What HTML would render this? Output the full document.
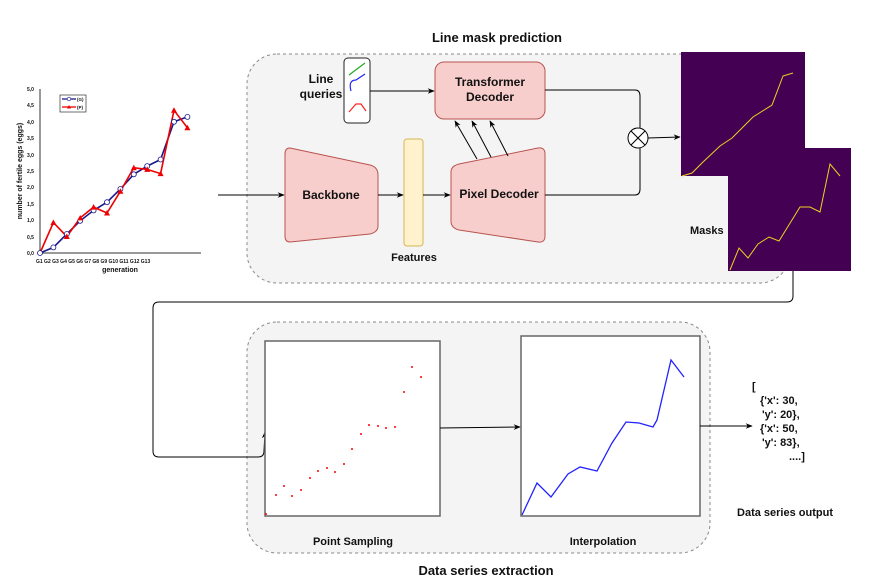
<!DOCTYPE html>
<html><head><meta charset="utf-8"><style>
html,body{margin:0;padding:0;background:#fff}
svg{display:block}
text{font-family:"Liberation Sans",sans-serif;font-weight:bold;fill:#111}
</style></head><body>
<svg width="877" height="582" viewBox="0 0 877 582" xmlns="http://www.w3.org/2000/svg">
<defs>
<marker id="a" viewBox="0 0 10 10" refX="9" refY="5" markerWidth="7" markerHeight="7" orient="auto"><path d="M0,1 L10,5 L0,9 L3,5z" fill="#000"/></marker>
</defs>
<!-- containers -->
<rect x="247" y="54" width="543" height="229" rx="30" fill="#f4f4f4" stroke="#888" stroke-dasharray="3,3"/>
<rect x="247" y="322" width="463" height="231" rx="30" fill="#f4f4f4" stroke="#888" stroke-dasharray="3,3"/>
<text x="497" y="42" font-size="13" text-anchor="middle">Line mask prediction</text>
<text x="486" y="575" font-size="13" text-anchor="middle">Data series extraction</text>

<!-- chart -->
<g font-family="Liberation Serif" >
<line x1="40" y1="89" x2="40" y2="253" stroke="#333"/>
<line x1="40" y1="253" x2="201" y2="253" stroke="#333"/>
<g font-size="5" fill="#222" style="font-weight:bold">
<text x="27" y="91" font-size="5">5,0</text><text x="27" y="107" font-size="5">4,5</text><text x="27" y="124" font-size="5">4,0</text><text x="27" y="140" font-size="5">3,5</text><text x="27" y="157" font-size="5">3,0</text><text x="27" y="173" font-size="5">2,5</text><text x="27" y="189" font-size="5">2,0</text><text x="27" y="206" font-size="5">1,5</text><text x="27" y="222" font-size="5">1,0</text><text x="27" y="239" font-size="5">0,5</text><text x="27" y="255" font-size="5">0,0</text>
<text x="36" y="263" font-size="5">G1  G2  G3  G4  G5  G6  G7  G8  G9  G10 G11 G12 G13</text>
</g>
<text x="120" y="272" font-size="7" text-anchor="middle" font-family="Liberation Serif">generation</text>
<text x="22" y="171" font-size="7" text-anchor="middle" font-family="Liberation Serif" transform="rotate(-90 22 171)">number of fertile eggs (eggs)</text>
<rect x="60" y="95" width="26" height="17" fill="#fff" stroke="#333" stroke-width="0.7"/>
<line x1="62" y1="99" x2="76" y2="99" stroke="#1a1a8c" stroke-width="1.3"/><circle cx="69" cy="99" r="1.8" fill="#fff" stroke="#1a1a8c" stroke-width="0.7"/>
<line x1="62" y1="107" x2="76" y2="107" stroke="#e00" stroke-width="1.3"/><path d="M67,108.5 L69,105 L71,108.5z" fill="#e00"/>
<text x="77" y="101" font-size="4.5">(G)</text><text x="77" y="109" font-size="4.5">(P)</text>
<polyline fill="none" stroke="#1a1a8c" stroke-width="1.6" points="40,253 53.4,247.4 66.8,234 80.2,220.8 93.6,210.4 107,202.2 120.4,189 133.8,174.3 147.2,166.1 160.6,159.5 174,121.8 187.4,116.9"/>
<polyline fill="none" stroke="#e00" stroke-width="1.6" points="40,253 53.4,222.5 66.8,236.6 80.2,217.9 93.6,207.1 107,213 120.4,191.3 133.8,167.7 147.2,169.4 160.6,173.6 174,110.3 187.4,127.7"/>
<g fill="#fff" stroke="#1a1a8c" stroke-width="0.8">
<circle cx="40" cy="253" r="2.5"/><circle cx="53.4" cy="247.4" r="2.5"/><circle cx="66.8" cy="234" r="2.5"/><circle cx="80.2" cy="220.8" r="2.5"/><circle cx="93.6" cy="210.4" r="2.5"/><circle cx="107" cy="202.2" r="2.5"/><circle cx="120.4" cy="189" r="2.5"/><circle cx="133.8" cy="174.3" r="2.5"/><circle cx="147.2" cy="166.1" r="2.5"/><circle cx="160.6" cy="159.5" r="2.5"/><circle cx="174" cy="121.8" r="2.5"/><circle cx="187.4" cy="116.9" r="2.5"/></g>
<g fill="#e00">
<path d="M50.4,225 L53.4,219.5 L56.4,225z"/><path d="M63.8,239 L66.8,233.5 L69.8,239z"/><path d="M77.2,220.4 L80.2,215 L83.2,220.4z"/><path d="M90.6,209.6 L93.6,204 L96.6,209.6z"/><path d="M104,215.5 L107,210 L110,215.5z"/><path d="M117.4,193.8 L120.4,188.3 L123.4,193.8z"/><path d="M130.8,170.2 L133.8,164.7 L136.8,170.2z"/><path d="M144.2,171.9 L147.2,166.4 L150.2,171.9z"/><path d="M157.6,176.1 L160.6,170.6 L163.6,176.1z"/><path d="M171,112.8 L174,107.3 L177,112.8z"/><path d="M184.4,130.2 L187.4,124.7 L190.4,130.2z"/>
</g>
</g>

<!-- input arrow -->
<line x1="218" y1="195" x2="284" y2="195" stroke="#000" marker-end="url(#a)"/>

<!-- backbone -->
<path d="M290,148 L370,165 Q378,167 378,175 L378,226 Q378,232 370,234 L290,242 Q285,242 285,236 L285,154 Q285,148 290,148z" fill="#f8cecc" stroke="#b85450"/>
<text x="331" y="199" font-size="12" text-anchor="middle">Backbone</text>
<line x1="378" y1="195" x2="403" y2="195" stroke="#000" marker-end="url(#a)"/>
<rect x="404" y="139" width="19" height="107" rx="3" fill="#fff2cc" stroke="#d6b656"/>
<text x="414" y="261" font-size="11" text-anchor="middle">Features</text>
<line x1="423" y1="195" x2="450" y2="195" stroke="#000" marker-end="url(#a)"/>
<!-- pixel decoder -->
<path d="M459,164 L538,148 Q545,147 545,154 L545,236 Q545,243 538,242 L459,230 Q451,228 451,221 L451,172 Q451,166 459,164z" fill="#f8cecc" stroke="#b85450"/>
<text x="499" y="198" font-size="12" text-anchor="middle">Pixel Decoder</text>
<!-- transformer decoder -->
<rect x="435" y="62" width="110" height="57" rx="9" fill="#f8cecc" stroke="#b85450"/>
<text x="490" y="86" font-size="12" text-anchor="middle">Transformer</text>
<text x="490" y="101" font-size="12" text-anchor="middle">Decoder</text>
<line x1="477" y1="159" x2="455" y2="121" stroke="#000" marker-end="url(#a)"/>
<line x1="491" y1="157" x2="472" y2="121" stroke="#000" marker-end="url(#a)"/>
<line x1="508" y1="156" x2="490" y2="121" stroke="#000" marker-end="url(#a)"/>
<!-- line queries -->
<text x="321" y="83" font-size="12" text-anchor="middle">Line</text>
<text x="321" y="98" font-size="12" text-anchor="middle">queries</text>
<rect x="344" y="58" width="26" height="65" rx="4" fill="#fff" stroke="#222"/>
<line x1="349" y1="75" x2="365" y2="63" stroke="#2a2" stroke-width="1.2"/>
<path d="M351,91 Q348,80 356,80 L365,74" fill="none" stroke="#22f" stroke-width="1.2"/>
<path d="M349,112 L356,104 L361,104 L366,111" fill="none" stroke="#f22" stroke-width="1.2"/>
<line x1="370" y1="91" x2="434" y2="91" stroke="#000" marker-end="url(#a)"/>
<!-- combine -->
<path d="M545,90 L635,90 Q640,90 640,96 L640,128" fill="none" stroke="#000"/>
<path d="M545,195 L635,195 Q640,195 640,189 L640,148" fill="none" stroke="#000"/>
<circle cx="638" cy="138" r="10" fill="#fff" stroke="#000"/>
<line x1="631" y1="131" x2="645" y2="145" stroke="#000"/><line x1="645" y1="131" x2="631" y2="145" stroke="#000"/>
<line x1="648" y1="138" x2="680" y2="137" stroke="#000" marker-end="url(#a)"/>
<!-- masks -->
<rect x="681" y="52" width="124" height="124" fill="#440154"/>
<polyline fill="none" stroke="#f0d020" stroke-width="1" points="682,176 692,173 703,162 720,146 732,138 743,127 753,117 772,105 783,76 793,73"/>
<rect x="728" y="148" width="123" height="123" fill="#440154"/>
<polyline fill="none" stroke="#f0d020" stroke-width="1" points="730,270 739,248 748,258 758,244 769,237 779,241 800,207 810,207 820,212 830,164 840,176"/>
<text x="690" y="234" font-size="11">Masks</text>

<!-- connector -->
<path d="M793,271 L793,296 Q793,302 787,302 L159,302 Q153,302 153,308 L153,451 Q153,457 159,457 L258,457 Q264,457 264,451 L265,432" fill="none" stroke="#000" marker-end="url(#a)"/>

<!-- point sampling box -->
<rect x="265" y="341" width="175" height="175" fill="#fff" stroke="#666" stroke-width="1.5"/>
<g fill="#f00">
<circle cx="266" cy="514" r="1"/><circle cx="276" cy="495" r="1"/><circle cx="284" cy="486" r="1"/><circle cx="292" cy="496" r="1"/><circle cx="301" cy="490" r="1"/><circle cx="310" cy="478" r="1"/><circle cx="318" cy="471" r="1"/><circle cx="327" cy="468" r="1"/><circle cx="335" cy="472" r="1"/><circle cx="344" cy="464" r="1"/><circle cx="352" cy="449" r="1"/><circle cx="361" cy="434" r="1"/><circle cx="369" cy="425" r="1"/><circle cx="378" cy="426" r="1"/><circle cx="386" cy="428" r="1"/><circle cx="395" cy="427" r="1"/><circle cx="404" cy="392" r="1"/><circle cx="412" cy="367" r="1"/><circle cx="421" cy="377" r="1"/>
</g>
<text x="353" y="545" font-size="11" text-anchor="middle">Point Sampling</text>
<line x1="440" y1="428" x2="520" y2="427" stroke="#000" marker-end="url(#a)"/>
<!-- interpolation -->
<rect x="521" y="336" width="179" height="180" fill="#fff" stroke="#666" stroke-width="1.5"/>
<polyline fill="none" stroke="#22f" stroke-width="1.3" points="522,515 537,483 551,497 568,474 580,467 597,471 612,443 626,422 639,423 653,427 657,420 671,360 684,377"/>
<text x="603" y="545" font-size="11" text-anchor="middle">Interpolation</text>
<line x1="700" y1="426" x2="752" y2="426" stroke="#000" marker-end="url(#a)"/>
<g font-size="11">
<text x="752" y="390">[</text>
<text x="760" y="404">{'x': 30,</text>
<text x="762" y="418">'y': 20},</text>
<text x="760" y="432">{'x': 50,</text>
<text x="762" y="446">'y': 83},</text>
<text x="789" y="460">....]</text>
</g>
<text x="785" y="516" font-size="11" text-anchor="middle">Data series output</text>
</svg>
</body></html>
